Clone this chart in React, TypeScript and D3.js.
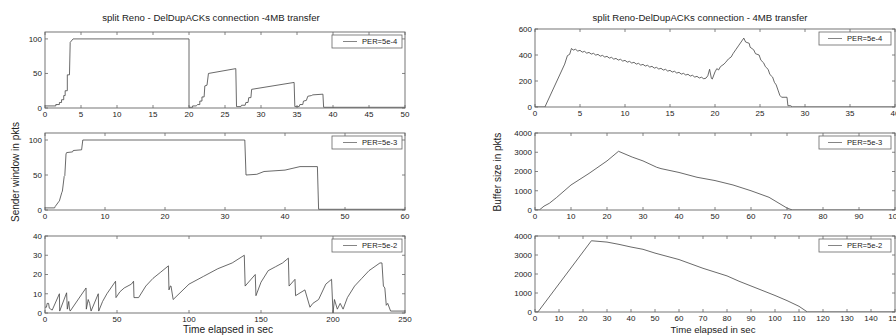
import React, { useEffect, useRef } from 'react';
import * as d3 from 'd3';

// sender window, PER=5e-4
const cwndAT = [0, 1.5, 1.5, 2, 2, 2.3, 2.3, 2.6, 2.6, 2.8, 2.8, 3.1, 3.1, 3.4, 3.5, 3.9, 20, 20, 20.5, 20.5, 21, 21.2, 21.5, 21.5, 21.8, 21.8, 22.1, 22.2, 22.5, 22.7, 26.5, 26.6, 27.2, 27.3, 27.8, 27.9, 28.2, 28.3, 28.6, 28.7, 34.6, 34.7, 35.3, 35.4, 35.8, 35.9, 36.3, 36.5, 37, 37.2, 38.6, 38.7, 50];
const cwndAV = [3, 3, 5, 5, 8, 8, 12, 12, 18, 18, 25, 25, 48, 48, 95, 100, 100, 1, 1, 3, 3, 5, 5, 10, 10, 16, 16, 32, 33, 50, 57, 2, 2, 4, 4, 8, 8, 15, 15, 27, 37, 2, 2, 5, 5, 10, 11, 17, 18, 19, 20, 1, 1];

// sender window, PER=5e-3
const cwndBT = [0, 1.6, 1.7, 2.3, 2.4, 2.8, 2.9, 3.2, 3.3, 3.5, 3.6, 4.6, 4.7, 6.1, 6.3, 33.3, 33.5, 35.3, 36.5, 40, 42.5, 45.4, 45.6, 60];
const cwndBV = [3, 3, 5, 12, 13, 25, 27, 48, 49, 80, 82, 83, 85, 86, 100, 100, 50, 51, 55, 57, 62, 62, 1, 1];

// sender window, PER=5e-2
const cwndCT = [0, 1, 1.5, 2.5, 3, 4, 5, 10, 10.2, 15, 15.5, 16.5, 17, 17.5, 28.5, 28.7, 30, 31, 32, 37, 37.3, 40, 43, 49, 49.3, 52, 55, 60, 61.5, 61.8, 65, 70, 75, 80, 85.7, 86.1, 87, 87.5, 89, 100, 110, 120, 130, 138.4, 139, 146, 146.5, 150, 155, 160, 165, 169, 169.5, 173.6, 174, 180.5, 184, 186, 190, 195, 199, 200, 201, 203, 205, 207, 210, 215, 220, 225, 232.6, 234, 235, 236, 237, 238, 240, 250];
const cwndCV = [3, 3, 5, 5, 2.5, 2, 1.5, 10, 1, 10.5, 2, 6, 2, 1, 13, 2, 7, 5, 1, 10, 1, 6, 10, 16.5, 8, 11, 13, 15, 16.5, 8, 8, 14, 18, 21, 24.5, 12, 14, 14, 7, 15, 19, 23, 26, 30, 14, 20, 9, 16, 22, 24, 26, 28.5, 14, 17.5, 9, 12, 3, 5, 7, 15, 17.5, 0, 7, 2, 5, 2, 8, 14, 18, 22, 26, 26, 14, 13, 4, 5, 1, 1];

// buffer size, PER=5e-4
const bufAT = [0, 1.1, 3.3, 3.6, 3.85, 4.05, 4.25, 4.5, 4.75, 5, 5.25, 5.5, 5.75, 6, 6.25, 6.5, 6.75, 7, 7.25, 7.5, 7.75, 8, 8.25, 8.5, 8.75, 9, 9.25, 9.5, 9.75, 10, 10.25, 10.5, 10.75, 11, 11.25, 11.5, 11.75, 12, 12.25, 12.5, 12.75, 13, 13.25, 13.5, 13.75, 14, 14.25, 14.5, 14.75, 15, 15.25, 15.5, 15.75, 16, 16.25, 16.5, 16.75, 17, 17.25, 17.5, 17.75, 18, 18.25, 18.5, 18.75, 19, 19.2, 19.4, 19.6, 19.7, 20, 20.2, 20.4, 20.6, 21, 21.2, 21.5, 21.8, 22, 22.3, 22.6, 22.9, 23.2, 23.4, 23.8, 23.9, 24.3, 24.5, 24.9, 25.1, 25.4, 25.6, 25.9, 26.1, 26.4, 26.6, 26.8, 27, 27.2, 27.4, 28, 28.1, 28.4, 28.6, 40];
const bufAV = [0, 0, 330, 395, 405, 450, 438, 444, 430, 436, 422, 428, 414, 420, 407, 413, 399, 405, 391, 397, 384, 390, 376, 382, 368, 374, 361, 367, 353, 359, 345, 351, 338, 344, 330, 336, 322, 328, 315, 321, 307, 313, 299, 305, 292, 298, 284, 290, 276, 282, 269, 275, 261, 267, 253, 259, 246, 252, 238, 244, 230, 236, 223, 229, 217, 222, 240, 290, 220, 215, 270, 295, 285, 310, 330, 345, 370, 385, 410, 440, 470, 500, 530, 500, 490, 460, 440, 410, 400, 360, 340, 310, 290, 250, 230, 190, 170, 130, 90, 75, 75, 10, 10, 0, 0];

// buffer size, PER=5e-3
const bufBT = [0, 1.2, 2.5, 4, 6, 10, 15, 20, 23.2, 27, 30, 33.8, 35, 40, 45, 50, 55, 60, 65, 70, 71.5, 100];
const bufBV = [0, 0, 200, 350, 650, 1300, 1900, 2550, 3050, 2750, 2550, 2220, 2150, 1950, 1700, 1530, 1300, 1000, 660, 100, 0, 0];

// buffer size, PER=5e-2
const bufCT = [0, 1.2, 23.5, 30, 35, 40, 45, 50, 60, 70, 80, 85, 90, 100, 105, 110, 113.5, 150];
const bufCV = [0, 0, 3750, 3680, 3560, 3420, 3300, 3100, 2760, 2300, 1900, 1620, 1370, 870, 600, 300, 0, 0];

const legends = ['PER=5e-4', 'PER=5e-3', 'PER=5e-2'];
const leftTitle = 'split Reno - DelDupACKs connection -4MB transfer';
const rightTitle = 'split Reno-DelDupACKs connection - 4MB transfer';
const xLabel = 'Time elapsed in sec';
const leftYLabel = 'Sender window in pkts';
const rightYLabel = 'Buffer size in pkts';

const W = 896;
const H = 336;
const FONT = '"Liberation Sans", Arial, Helvetica, sans-serif';

const App = () => {
  const ref = useRef<SVGSVGElement>(null);

  useEffect(() => {
    const svg = d3.select(ref.current);
    svg.selectAll('*').remove();

    const panels = [
      { id: 'la', t: cwndAT, v: cwndAV, xMax: 50, xStep: 5, yMax: 110, yTicks: [0, 50, 100], left: 45, right: 405, top: 32, bottom: 108, legend: legends[0], side: 'l' },
      { id: 'lb', t: cwndBT, v: cwndBV, xMax: 60, xStep: 10, yMax: 110, yTicks: [0, 50, 100], left: 45, right: 405, top: 133, bottom: 210, legend: legends[1], side: 'l' },
      { id: 'lc', t: cwndCT, v: cwndCV, xMax: 250, xStep: 50, yMax: 40, yTicks: [0, 10, 20, 30, 40], left: 45, right: 405, top: 236, bottom: 313, legend: legends[2], side: 'l' },
      { id: 'ra', t: bufAT, v: bufAV, xMax: 40, xStep: 5, yMax: 600, yTicks: [0, 200, 400, 600], left: 535, right: 895, top: 29, bottom: 107, legend: legends[0], side: 'r' },
      { id: 'rb', t: bufBT, v: bufBV, xMax: 100, xStep: 10, yMax: 4000, yTicks: [0, 1000, 2000, 3000, 4000], left: 535, right: 895, top: 133, bottom: 210, legend: legends[1], side: 'r' },
      { id: 'rc', t: bufCT, v: bufCV, xMax: 150, xStep: 10, yMax: 4000, yTicks: [0, 1000, 2000, 3000, 4000], left: 535, right: 895, top: 236, bottom: 312, legend: legends[2], side: 'r' },
    ];

    panels.forEach(p => {
      const x = d3.scaleLinear().domain([0, p.xMax]).range([p.left, p.right]);
      const y = d3.scaleLinear().domain([0, p.yMax]).range([p.bottom, p.top]);
      const g = svg.append('g');

      g.append('clipPath').attr('id', 'clip-' + p.id)
        .append('rect')
        .attr('x', p.left).attr('y', p.top)
        .attr('width', p.right - p.left).attr('height', p.bottom - p.top);

      // the series
      const pts = p.t.map((t, i) => [t, p.v[i]] as [number, number]);
      const line = d3.line<[number, number]>().x(d => x(d[0])).y(d => y(d[1]));
      g.append('path')
        .attr('d', line(pts))
        .attr('clip-path', `url(#clip-${p.id})`)
        .attr('fill', 'none')
        .attr('stroke', '#444')
        .attr('stroke-width', 0.8);

      // frame
      g.append('rect')
        .attr('x', p.left).attr('y', p.top)
        .attr('width', p.right - p.left).attr('height', p.bottom - p.top)
        .attr('fill', 'none').attr('stroke', '#666').attr('stroke-width', 0.9);

      // x ticks (inward, top and bottom)
      const xt = d3.range(0, p.xMax + 1e-9, p.xStep);
      xt.forEach(t => {
        g.append('line').attr('x1', x(t)).attr('x2', x(t)).attr('y1', p.bottom).attr('y2', p.bottom - 3)
          .attr('stroke', '#666').attr('stroke-width', 0.8);
        g.append('line').attr('x1', x(t)).attr('x2', x(t)).attr('y1', p.top).attr('y2', p.top + 3)
          .attr('stroke', '#666').attr('stroke-width', 0.8);
        g.append('text').attr('x', x(t)).attr('y', p.bottom + 9)
          .attr('text-anchor', 'middle').attr('font-family', FONT).attr('font-size', 8).attr('fill', '#222')
          .text(String(t));
      });

      // y ticks (inward, left and right)
      p.yTicks.forEach(v => {
        g.append('line').attr('x1', p.left).attr('x2', p.left + 3).attr('y1', y(v)).attr('y2', y(v))
          .attr('stroke', '#666').attr('stroke-width', 0.8);
        g.append('line').attr('x1', p.right).attr('x2', p.right - 3).attr('y1', y(v)).attr('y2', y(v))
          .attr('stroke', '#666').attr('stroke-width', 0.8);
        g.append('text').attr('x', p.left - 3).attr('y', y(v)).attr('dy', '0.35em')
          .attr('text-anchor', 'end').attr('font-family', FONT).attr('font-size', 8).attr('fill', '#222')
          .text(String(v));
      });

      // legend
      const bw = p.side === 'l' ? 70 : 72;
      const bx = p.side === 'l' ? p.right - 73 : p.right - 76;
      const by = p.top + 3;
      g.append('rect').attr('x', bx).attr('y', by).attr('width', bw).attr('height', 13)
        .attr('fill', '#fff').attr('stroke', '#666').attr('stroke-width', 0.8);
      const lx = p.side === 'l' ? bx + 11 : bx + 9;
      g.append('line').attr('x1', lx).attr('x2', lx + 14).attr('y1', by + 6.5).attr('y2', by + 6.5)
        .attr('stroke', '#666').attr('stroke-width', 0.8);
      g.append('text').attr('x', lx + 19).attr('y', by + 6.5).attr('dy', '0.35em')
        .attr('font-family', FONT).attr('font-size', 7.6).attr('fill', '#222')
        .text(p.legend);
    });

    // titles and axis labels
    const txt = (s: string, xp: number, yp: number, size: number, rot = false) => {
      const t = svg.append('text')
        .attr('text-anchor', 'middle').attr('font-family', FONT).attr('font-size', size).attr('fill', '#222')
        .text(s);
      if (rot) t.attr('transform', `translate(${xp},${yp}) rotate(-90)`);
      else t.attr('x', xp).attr('y', yp);
    };
    txt(leftTitle, 211, 20.5, 9.6);
    txt(rightTitle, 700, 20.5, 9.6);
    txt(xLabel, 228, 333, 10.2);
    txt(xLabel, 713, 333, 9.6);
    txt(leftYLabel, 18.5, 172, 10, true);
    txt(rightYLabel, 500.5, 172, 10, true);
  }, []);

  return (
    <svg ref={ref} width={W} height={H}
      style={{ position: 'absolute', left: 0, top: 0, background: '#fff', display: 'block' }} />
  );
};

export default App;
